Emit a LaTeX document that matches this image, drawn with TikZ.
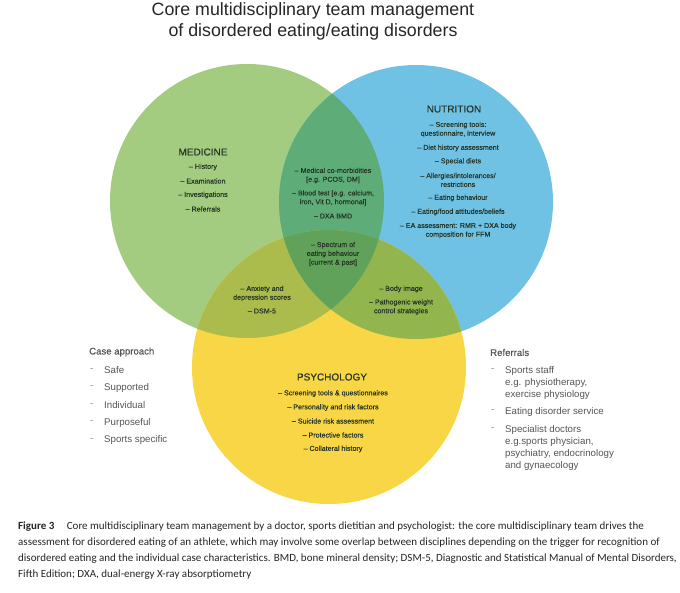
\documentclass[tikz,border=0pt]{standalone}
\usepackage{fontspec}
\setmainfont{Liberation Sans}
\newfontfamily\capfont{Carlito}
\newfontfamily\medfont[FakeBold=0.5]{Liberation Sans}
\newfontfamily\semifont[FakeBold=0.25]{Liberation Sans}
\definecolor{gcol}{HTML}{A3CC80}
\definecolor{bcol}{HTML}{70C2E5}
\definecolor{ycol}{HTML}{F8D646}
\definecolor{gbcol}{HTML}{5EAD78}
\definecolor{gycol}{HTML}{ACBC4C}
\definecolor{bycol}{HTML}{93B54E}
\definecolor{allcol}{HTML}{60A25A}
\definecolor{txt}{HTML}{263626}
\definecolor{sidetxt}{HTML}{555555}
\definecolor{titletxt}{HTML}{262626}
\tikzset{
  itm/.style={font=\semifont\fontsize{7.1}{8.8}\selectfont, align=center, inner sep=0pt, text=txt},
  head/.style={font=\medfont\fontsize{10}{12}\selectfont, inner sep=0pt, text=txt},
  sidehead/.style={font=\medfont\fontsize{9.6}{11}\selectfont, inner sep=0pt, anchor=west, text=sidetxt},
  sideitm/.style={font=\fontsize{9.7}{12}\selectfont, inner sep=0pt, anchor=north west, align=left, text=sidetxt},
  sidedash/.style={font=\fontsize{9.7}{12}\selectfont, inner sep=0pt, anchor=west, text=sidetxt!70},
  ttl/.style={font=\fontsize{17.8}{20}\selectfont, inner sep=0pt, text=titletxt},
  captxt/.style={font=\capfont\fontsize{11}{16}\selectfont, inner sep=0pt, anchor=west, text=black!85}
}
\begin{document}
\begin{tikzpicture}[x=1pt,y=-1pt]
\useasboundingbox (0,0) rectangle (680,593);
\fill[white] (0,0) rectangle (680,593);
\coordinate (G) at (247,201);
\coordinate (B) at (416,202);
\coordinate (Y) at (329,367);
% circles
\fill[gcol] (G) circle[radius=137pt];
\fill[bcol] (B) circle[radius=137pt];
\fill[ycol] (Y) circle[radius=137pt];
\begin{scope}
  \clip (B) circle[radius=137pt];
  \fill[bycol] (Y) circle[radius=137pt];
\end{scope}
\begin{scope}
  \clip (G) circle[radius=137pt];
  \fill[gbcol] (B) circle[radius=137pt];
  \fill[gycol] (Y) circle[radius=137pt];
  \clip (B) circle[radius=137pt];
  \fill[allcol] (Y) circle[radius=137pt];
\end{scope}
% title
\node[ttl] (t1) at (313,11) {Core multidisciplinary team management};
\node[ttl] (t2) at (313,32) {of disordered eating/eating disorders};
% medicine
\node[head] (med) at (203,152) {MEDICINE};
\node[itm] (m1) at (203,167) {– History};
\node[itm] (m2) at (203,181) {– Examination};
\node[itm] (m3) at (203,195) {– Investigations};
\node[itm] (m4) at (203,209) {– Referrals};
% nutrition
\node[head] (nut) at (454,109) {NUTRITION};
\node[itm] (n1) at (458,129.5) {– Screening tools:\\questionnaire, interview};
\node[itm] (n2) at (458,148) {– Diet history assessment};
\node[itm] (n3) at (458,161.5) {– Special diets};
\node[itm] (n4) at (458,180) {– Allergies/intolerances/\\restrictions};
\node[itm] (n5) at (458,198) {– Eating behaviour};
\node[itm] (n6) at (458,212) {– Eating/food attitudes/beliefs};
\node[itm] (n7) at (458,230.5) {– EA assessment: RMR + DXA body\\composition for FFM};
% medicine & nutrition
\node[itm] (mn1) at (333,175.5) {– Medical co-morbidities\\{}[e.g. PCOS, DM]};
\node[itm] (mn2) at (333,198) {– Blood test [e.g. calcium,\\iron, Vit D, hormonal]};
\node[itm] (mn3) at (333,216) {– DXA BMD};
% centre
\node[itm] (c1) at (333,254) {– Spectrum of\\eating behaviour\\{}[current \& past]};
% medicine & psychology
\node[itm] (mp1) at (262,293.5) {– Anxiety and\\depression scores};
\node[itm] (mp2) at (262,311) {– DSM-5};
% nutrition & psychology
\node[itm] (np1) at (401,289) {– Body image};
\node[itm] (np2) at (401,307) {– Pathogenic weight\\control strategies};
% psychology
\node[head] (psy) at (332,377) {PSYCHOLOGY};
\node[itm] (p1) at (333,393.5) {– Screening tools \& questionnaires};
\node[itm] (p2) at (333,407.5) {– Personality and risk factors};
\node[itm] (p3) at (333,421) {– Suicide risk assessment};
\node[itm] (p4) at (333,435) {– Protective factors};
\node[itm] (p5) at (333,449) {– Collateral history};
% case approach
\node[sidehead] (ca) at (89,352) {Case approach};
\foreach \t/\yy [count=\i] in {Safe/370,Supported/387.5,Individual/405,Purposeful/422.5,Sports specific/440}{
  \node[sidedash] (cad\i) at (90,\yy) {-};
  \node[sideitm, anchor=west] (cai\i) at (104,\yy) {\t};
}
% referrals
\node[sidehead] (rf) at (490,352.5) {Referrals};
\node[sidedash] (rd1) at (491,370.5) {-};
\node[sideitm] (r1) at (505,366.5) {Sports staff\\e.g. physiotherapy,\\exercise physiology};
\node[sidedash] (rd2) at (491,411) {-};
\node[sideitm] (r2) at (505,407) {Eating disorder service};
\node[sidedash] (rd3) at (491,429) {-};
\node[sideitm] (r3) at (505,425) {Specialist doctors\\e.g.sports physician,\\psychiatry, endocrinology\\and gynaecology};
% caption
\node[captxt] (cap1) at (18,527) {\textbf{Figure 3}\hspace{0.9em} Core multidisciplinary team management by a doctor, sports dietitian and psychologist: the core multidisciplinary team drives the};
\node[captxt] (cap2) at (18,543) {assessment for disordered eating of an athlete, which may involve some overlap between disciplines depending on the trigger for recognition of};
\node[captxt] (cap3) at (18,559) {disordered eating and the individual case characteristics. BMD, bone mineral density; DSM-5, Diagnostic and Statistical Manual of Mental Disorders,};
\node[captxt] (cap4) at (18,575) {Fifth Edition; DXA, dual-energy X-ray absorptiometry};
\end{tikzpicture}
\end{document}
